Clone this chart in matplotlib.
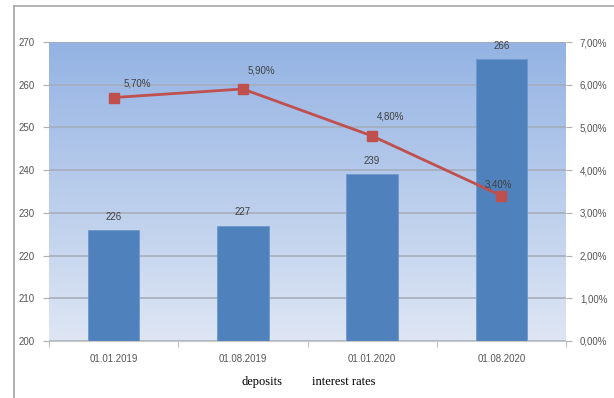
import matplotlib.pyplot as plt
import numpy as np
from matplotlib.colors import LinearSegmentedColormap
from matplotlib.lines import Line2D

dates = ["01.01.2019", "01.08.2019", "01.01.2020", "01.08.2020"]
deposits = [226, 227, 239, 266]
rates = [5.7, 5.9, 4.8, 3.4]
rate_labels = ["5,70%", "5,90%", "4,80%", "3,40%"]
# offsets of the rate labels, in points (layout only)
rate_offsets = [(17, 10), (13, 13), (13, 14), (-2, 8)]

plt.rcParams["font.family"] = ["Liberation Sans Narrow", "Liberation Sans", "DejaVu Sans"]

fig = plt.figure(figsize=(6.14, 3.98), dpi=100)
ax = fig.add_axes([49 / 614, 57 / 398, 517 / 614, 299 / 398])
ax2 = ax.twinx()

# gradient background of the plot area
grad = LinearSegmentedColormap.from_list("bg", ["#dee6f4", "#94b3e3"])
ax.imshow(np.linspace(0, 1, 256).reshape(-1, 1), cmap=grad, origin="lower",
          extent=[0, 1, 0, 1], transform=ax.transAxes, aspect="auto", zorder=0)

x = np.arange(len(dates))
ax.set_ylim(200, 270)
ax.set_xlim(-0.5, len(dates) - 0.5)
ax.set_yticks(np.arange(200, 271, 10))
ax.grid(axis="y", color="#a3abb9", lw=1.1, zorder=1)
ax.set_axisbelow(True)
bars = ax.bar(x, deposits, width=0.4, color="#4f81bd", edgecolor="#6f98cc",
              lw=0.6, zorder=2)
for xi, v in zip(x, deposits):
    ax.annotate(str(v), (xi, v), xytext=(0, 6), textcoords="offset points",
                ha="center", va="bottom", fontsize=7, color="#404040")

ax.set_xticks(x)
ax.set_xticklabels(dates)
ax.set_xticks(np.arange(-0.5, len(dates), 1), minor=True)
ax.tick_params(axis="x", which="major", length=0, pad=9, labelsize=7, labelcolor="#555555")
ax.tick_params(axis="x", which="minor", length=4, color="#b0b0b0", direction="out")
ax.tick_params(axis="y", length=4, color="#b0b0b0", labelsize=7, labelcolor="#555555", pad=6)

ax2.set_ylim(0, 7)
ax2.set_yticks(np.arange(0, 7.01, 1))
ax2.set_yticklabels([f"{v:.2f}%".replace(".", ",") for v in np.arange(0, 7.01, 1)])
ax2.tick_params(axis="y", length=4, color="#b0b0b0", labelsize=7, labelcolor="#555555", pad=6)
ax2.plot(x, rates, color="#c0504d", lw=2, marker="s", ms=7, zorder=3)
for xi, v, lab, off in zip(x, rates, rate_labels, rate_offsets):
    ax2.annotate(lab, (xi, v), xytext=off, textcoords="offset points",
                 ha="center", va="center", fontsize=7, color="#404040")

for a in (ax, ax2):
    for s in a.spines.values():
        s.set_visible(False)
ax.spines["bottom"].set_visible(True)
ax.spines["bottom"].set_color("#c8c8c8")

# legend text (no keys in the reference)
fig.text(241 / 614, 1 - 382 / 398, "deposits", family="Liberation Serif",
         fontsize=9, va="center", ha="left", color="black")
fig.text(312 / 614, 1 - 382 / 398, "interest rates", family="Liberation Serif",
         fontsize=9, va="center", ha="left", color="black")

# outer chart frame
fig.add_artist(Line2D([14 / 614, 14 / 614], [0, 1 - 6 / 398], color="#a6a6a6", lw=1.2))
fig.add_artist(Line2D([14 / 614, 1.01], [1 - 6 / 398, 1 - 6 / 398], color="#a6a6a6", lw=1.2))

fig.savefig("out.png", dpi=100)
